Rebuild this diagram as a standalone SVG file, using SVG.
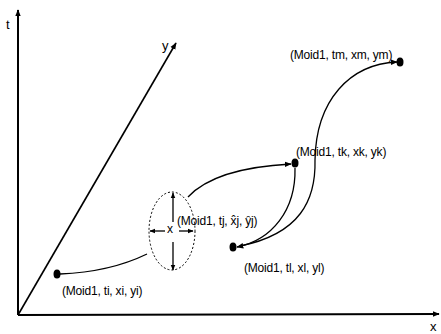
<svg xmlns="http://www.w3.org/2000/svg" width="441" height="334" viewBox="0 0 441 334">
<style>
.lbl{font-family:"Liberation Sans",Arial,sans-serif;font-size:12px;fill:#000;letter-spacing:-0.2px}
.ax{font-family:"Liberation Sans",Arial,sans-serif;font-size:13px;fill:#000}
.c{fill:none;stroke:#000;stroke-width:1.3}
.axis{fill:none;stroke:#000;stroke-width:2}
.dot{fill:#000}
</style>
<defs>
<marker id="ah" viewBox="0 0 10 10" refX="9" refY="5" markerWidth="7" markerHeight="7" markerUnits="userSpaceOnUse" orient="auto"><path d="M0,1 L10,5 L0,9 Z" fill="#000"/></marker>
<marker id="ahs" viewBox="0 0 10 10" refX="9" refY="5" markerWidth="6" markerHeight="6" markerUnits="userSpaceOnUse" orient="auto"><path d="M0,1 L10,5 L0,9 Z" fill="#000"/></marker>
</defs>
<g id="axes">
<line class="axis" x1="18" y1="315" x2="18" y2="10" marker-end="url(#ah)"/>
<line class="axis" x1="18" y1="315" x2="439" y2="314" marker-end="url(#ah)"/>
<line class="axis" style="stroke-width:1.6" x1="18" y1="315" x2="176" y2="43" marker-end="url(#ah)"/>
<text class="ax" x="6" y="29">t</text>
<text class="ax" x="162" y="50">y</text>
<text class="ax" x="430" y="331">x</text>
</g>
<g id="connectors">
<path class="c" d="M60 274 Q 110 272 147 254"/>
<path class="c" d="M188 197 Q 215 168 291 164" marker-end="url(#ah)"/>
<path class="c" d="M295 168 C 296 210, 272 240, 237 247" marker-end="url(#ah)"/>
<path class="c" d="M240 246 C 300 234, 316 200, 315 160 C 316 100, 350 64, 397 62" marker-end="url(#ah)"/>
</g>
<g id="node-i">
<ellipse class="dot" cx="57" cy="274" rx="3.5" ry="4.5"/>
<text class="lbl" x="62" y="295">(Moid1, ti, xi, yi)</text>
</g>
<g id="node-j">
<ellipse cx="172" cy="231" rx="23" ry="39" fill="none" stroke="#000" stroke-width="1" stroke-dasharray="2,2"/>
<line class="c" x1="173" y1="222" x2="173" y2="193" marker-end="url(#ahs)"/>
<line class="c" x1="173" y1="242" x2="173" y2="270" marker-end="url(#ahs)"/>
<line class="c" x1="165" y1="231" x2="150" y2="231" marker-end="url(#ahs)"/>
<line class="c" x1="179" y1="231" x2="193" y2="231" marker-end="url(#ahs)"/>
<text class="lbl" x="167" y="233">x</text>
<text class="lbl" x="177" y="225">(Moid1, tj, x̂j, ŷj)</text>
</g>
<g id="node-k">
<ellipse class="dot" cx="295" cy="163" rx="3.5" ry="4.5"/>
<text class="lbl" x="296" y="156">(Moid1, tk, xk, yk)</text>
</g>
<g id="node-l">
<ellipse class="dot" cx="233" cy="247" rx="3.5" ry="4.5"/>
<text class="lbl" x="244" y="272">(Moid1, tl, xl, yl)</text>
</g>
<g id="node-m">
<ellipse class="dot" cx="400" cy="62" rx="3.5" ry="4.5"/>
<text class="lbl" x="290" y="59">(Moid1, tm, xm, ym)</text>
</g>
</svg>
